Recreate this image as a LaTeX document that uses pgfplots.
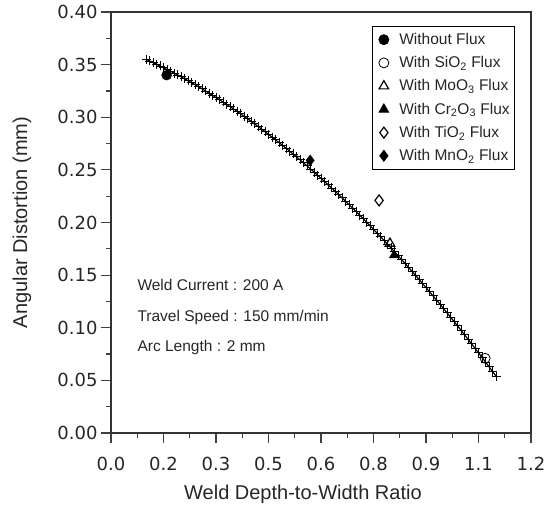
\documentclass[border=0pt]{standalone}
\usepackage{pgfplots}
\pgfplotsset{compat=1.18}
\usepackage{fontspec}
\setmainfont{Liberation Sans}
\newfontfamily\tickfont{DejaVu Sans}
\pgfplotsset{lgd/.style={legend image code/.code={\draw[##1] plot coordinates {(8pt,0pt)}; \path (0pt,0pt) (21pt,0pt);}}}
\pgfplotstableread{
x y
0.10 0.355
0.11 0.353475
0.12 0.35192
0.13 0.350335
0.14 0.34872
0.15 0.347075
0.16 0.3454
0.17 0.343695
0.18 0.34196
0.19 0.340195
0.20 0.3384
0.21 0.336575
0.22 0.33472
0.23 0.332835
0.24 0.33092
0.25 0.328975
0.26 0.327
0.27 0.324995
0.28 0.32296
0.29 0.320895
0.30 0.3188
0.31 0.316675
0.32 0.31452
0.33 0.312335
0.34 0.31012
0.35 0.307875
0.36 0.3056
0.37 0.303295
0.38 0.30096
0.39 0.298595
0.40 0.2962
0.41 0.293775
0.42 0.29132
0.43 0.288835
0.44 0.28632
0.45 0.283775
0.46 0.2812
0.47 0.278595
0.48 0.27596
0.49 0.273295
0.50 0.2706
0.51 0.267875
0.52 0.26512
0.53 0.262335
0.54 0.25952
0.55 0.256675
0.56 0.2538
0.57 0.250895
0.58 0.24796
0.59 0.244995
0.60 0.242
0.61 0.238975
0.62 0.23592
0.63 0.232835
0.64 0.22972
0.65 0.226575
0.66 0.2234
0.67 0.220195
0.68 0.21696
0.69 0.213695
0.70 0.2104
0.71 0.207075
0.72 0.20372
0.73 0.200335
0.74 0.19692
0.75 0.193475
0.76 0.19
0.77 0.186495
0.78 0.18296
0.79 0.179395
0.80 0.1758
0.81 0.172175
0.82 0.16852
0.83 0.164835
0.84 0.16112
0.85 0.157375
0.86 0.1536
0.87 0.149795
0.88 0.14596
0.89 0.142095
0.90 0.1382
0.91 0.134275
0.92 0.13032
0.93 0.126335
0.94 0.12232
0.95 0.118275
0.96 0.1142
0.97 0.110095
0.98 0.10596
0.99 0.101795
1.00 0.0976
1.01 0.093375
1.02 0.08912
1.03 0.084835
1.04 0.08052
1.05 0.076175
1.06 0.0718
1.07 0.067395
1.08 0.06296
1.09 0.058495
1.10 0.054
}\curvedata
\begin{document}
\begin{tikzpicture}
\path[use as bounding box] (-111pt,-78pt) rectangle (442pt,433pt);
\begin{axis}[
  at={(0,0)}, anchor=south west,
  width=420pt, height=421pt, scale only axis,
  xmin=0, xmax=1.2, ymin=0, ymax=0.4,
  xtick={0,0.15,0.3,0.45,0.6,0.75,0.9,1.05,1.2},
  xticklabels={0.0,0.2,0.3,0.5,0.6,0.8,0.9,1.1,1.2},
  ytick={0,0.05,0.1,0.15,0.2,0.25,0.3,0.35,0.4},
  yticklabels={0.00,0.05,0.10,0.15,0.20,0.25,0.30,0.35,0.40},
  minor x tick num=1, minor y tick num=1,
  tick align=outside, xtick pos=bottom, ytick pos=left,
  major tick length=10pt, minor tick length=5pt,
  every tick/.style={black!75, line width=1.2pt},
  axis line style={black!80, line width=1.2pt},
  /pgf/number format/assume math mode=true,
  tick label style={font=\tickfont\fontsize{18}{20}\selectfont, text=black!85},
  xticklabel style={yshift=-11pt},
  xlabel={Weld Depth-to-Width Ratio},
  ylabel={Angular Distortion (mm)},
  label style={font=\fontsize{20}{22}\selectfont, text=black!85},
  xlabel style={at={(axis description cs:0.457,-0.145)}, anchor=center},
  ylabel style={at={(axis description cs:-0.212,0.5)}, anchor=center},
  legend style={at={(0.962,0.967)}, anchor=north east, draw=black, line width=0.8pt,
    font=\fontsize{15.5}{17}\selectfont, row sep=6.5pt, inner xsep=3pt, inner ysep=5pt,
    text=black!85},
  legend cell align=left,
]
\addplot[black, line width=1.2pt, mark=+, mark size=4.5pt, mark options={line width=0.8pt}, forget plot] table {\curvedata};
\addplot[only marks, mark=*, mark size=5pt, black, lgd] coordinates {(0.159,0.340)};
\addlegendentry{Without Flux}
\addplot[only marks, mark=o, mark size=5pt, black, mark options={line width=0.8pt}, lgd] coordinates {(1.069,0.071)};
\addlegendentry{With SiO\textsubscript{2} Flux}
\addplot[only marks, mark=triangle, mark size=5.5pt, black, mark options={line width=1.2pt}, lgd] coordinates {(0.797,0.180)};
\addlegendentry{With MoO\textsubscript{3} Flux}
\addplot[only marks, mark=triangle*, mark size=5.5pt, black, lgd] coordinates {(0.809,0.169)};
\addlegendentry{With Cr\textsubscript{2}O\textsubscript{3} Flux}
\addplot[only marks, mark=diamond, mark size=5.5pt, black, mark options={line width=1.2pt}, lgd] coordinates {(0.766,0.221)};
\addlegendentry{With TiO\textsubscript{2} Flux}
\addplot[only marks, mark=diamond*, mark size=5.5pt, black, lgd] coordinates {(0.569,0.259)};
\addlegendentry{With MnO\textsubscript{2} Flux}
\node[anchor=west, font=\fontsize{15.5}{17}\selectfont, text=black!85] at (axis cs:0.0657,0.1406) {Weld Current : 200 A};
\node[anchor=west, font=\fontsize{15.5}{17}\selectfont, text=black!85] at (axis cs:0.0657,0.1102) {Travel Speed : 150 mm/min};
\node[anchor=west, font=\fontsize{15.5}{17}\selectfont, text=black!85] at (axis cs:0.0657,0.0808) {Arc Length : 2 mm};
\end{axis}
\end{tikzpicture}
\end{document}
